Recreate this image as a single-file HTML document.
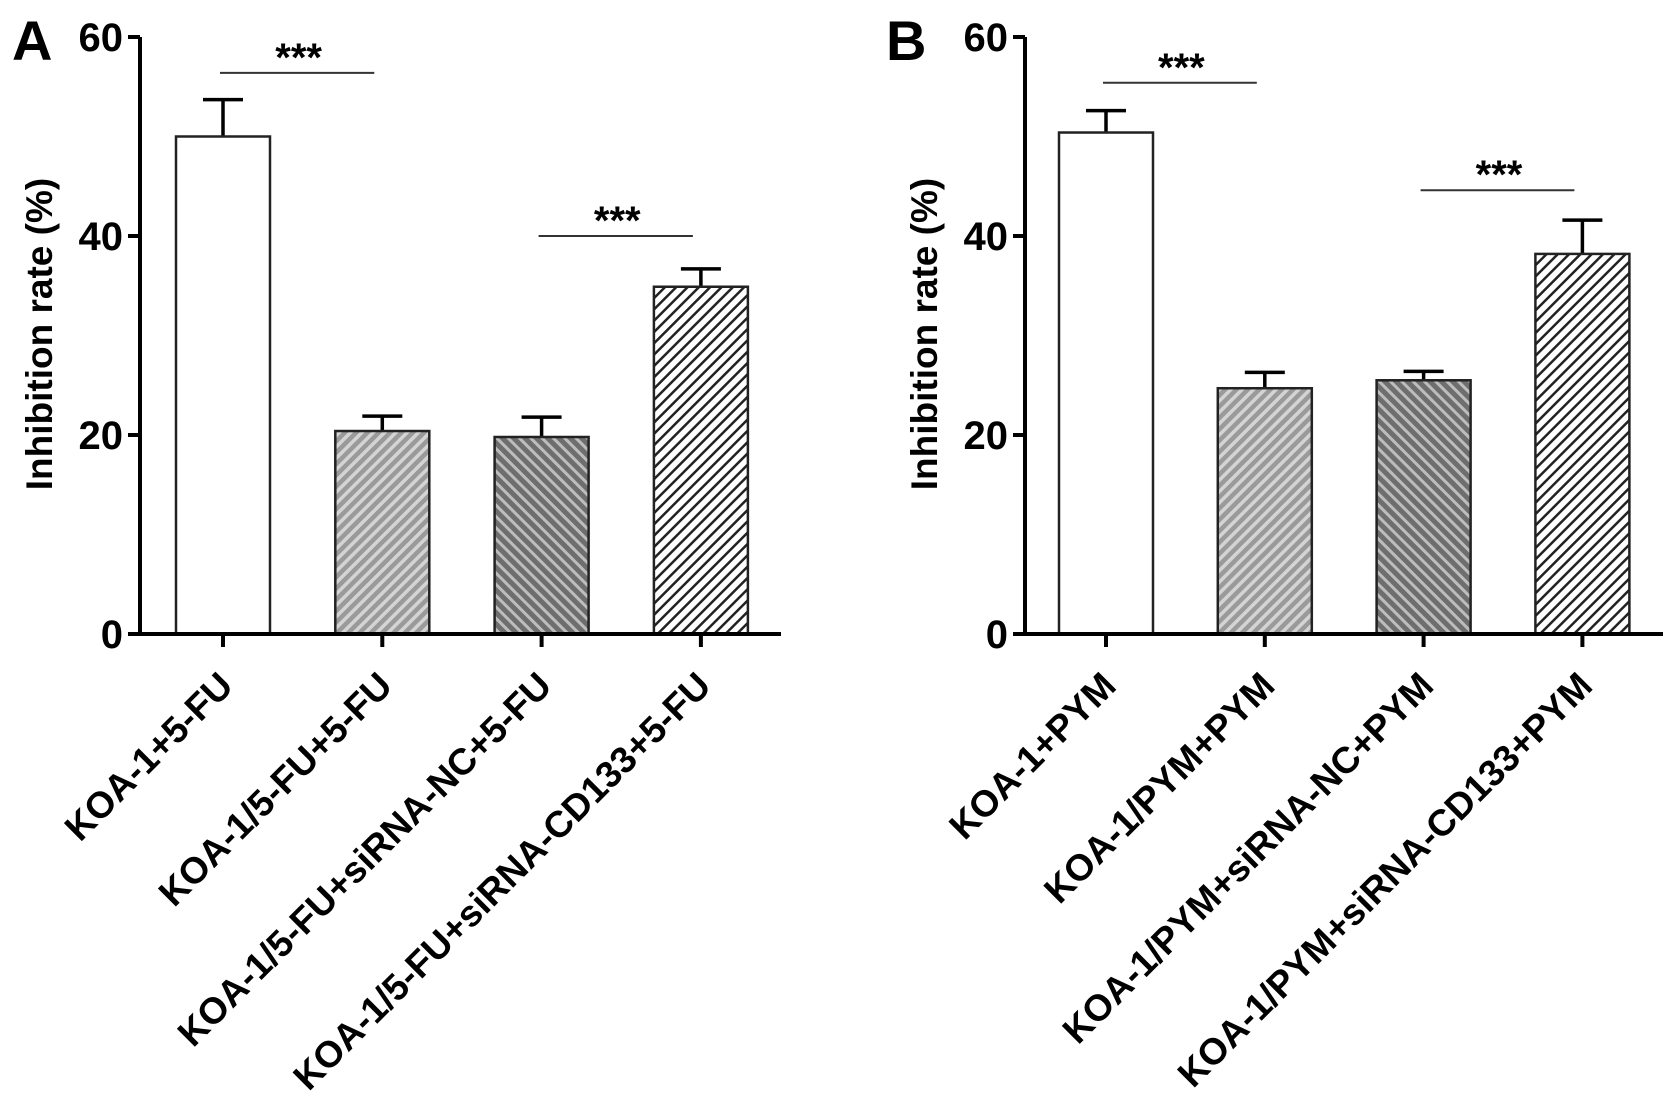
<!DOCTYPE html>
<html><head><meta charset="utf-8"><style>
html,body{margin:0;padding:0;background:#fff;}
svg{display:block;font-family:"Liberation Sans",Arial,sans-serif;}
</style></head><body>
<svg id="fig" width="1677" height="1100" viewBox="0 0 1677 1100">
<defs>
<pattern id="hatchA" patternUnits="userSpaceOnUse" width="8" height="8" patternTransform="rotate(45)">
<rect width="8" height="8" fill="#9a9a9a"/><rect width="3.5" height="8" fill="#d4d4d4"/></pattern>
<pattern id="hatchB" patternUnits="userSpaceOnUse" width="8" height="8" patternTransform="rotate(-45)">
<rect width="8" height="8" fill="#6e6e6e"/><rect width="3" height="8" fill="#bdbdbd"/></pattern>
<pattern id="hatchC" patternUnits="userSpaceOnUse" width="8" height="8" patternTransform="rotate(45)">
<rect width="8" height="8" fill="#fff"/><rect width="2.5" height="8" fill="#222"/></pattern>
</defs>
</svg>
<script>
const catsA = ["KOA-1+5-FU","KOA-1/5-FU+5-FU","KOA-1/5-FU+siRNA-NC+5-FU","KOA-1/5-FU+siRNA-CD133+5-FU"];
const valsA = [50.0, 20.4, 19.8, 34.9];
const errA = [3.7, 1.5, 2.0, 1.8];
const catsB = ["KOA-1+PYM","KOA-1/PYM+PYM","KOA-1/PYM+siRNA-NC+PYM","KOA-1/PYM+siRNA-CD133+PYM"];
const valsB = [50.4, 24.7, 25.5, 38.2];
const errB = [2.2, 1.6, 0.9, 3.4];
const yTicks = [0, 20, 40, 60];
const sigA = [[0,1,"***",56.4],[2,3,"***",40.0]];
const sigB = [[0,1,"***",55.4],[2,3,"***",44.6]];
const fills = ["#fff","url(#hatchA)","url(#hatchB)","url(#hatchC)"];

const svg = document.getElementById('fig');
const NS = "http://www.w3.org/2000/svg";
function mk(tag, attrs, parent){const e=document.createElementNS(NS,tag);for(const k in attrs)e.setAttribute(k,attrs[k]);(parent||svg).appendChild(e);return e;}

function panel(key, letter, letterX, axisX, x0, step, axisEnd, cats, vals, errs, sigs){
  const g = mk('g',{});
  
  
  const yTop=37, yBot=634, yMax=60;
  const y = v => yBot - (v/yMax)*(yBot-yTop);
  const x = i => x0 + i*step;
  const bw = 94;
  const L = mk('text',{x:letterX,y:60,'font-size':56,'font-weight':'bold',fill:'#000'},g); L.textContent=letter;
  
  
  vals.forEach((v,i)=>{
    const eb = mk('path',{d:`M${x(i)} ${y(v)} V${y(v+errs[i])} M${x(i)-20} ${y(v+errs[i])} H${x(i)+20}`,stroke:'#000','stroke-width':3.5,fill:'none'},g);
    
    
    const r = mk('rect',{x:x(i)-bw/2,y:y(v),width:bw,height:yBot-y(v),fill:fills[i],stroke:'#222','stroke-width':2.5},g);
    
    
  });
  const ya = mk('path',{d:`M${axisX} ${yTop} V${yBot}`,stroke:'#000','stroke-width':4},g);
  
  
  const xa = mk('path',{d:`M${axisX-8} ${yBot} H${axisEnd}`,stroke:'#000','stroke-width':4},g);
  
  
  yTicks.forEach(t=>{
    mk('path',{d:`M${axisX-12} ${y(t)} H${axisX}`,stroke:'#000','stroke-width':4},g);
    const tl = mk('text',{x:axisX-17,y:y(t)+14,'font-size':40,'font-weight':'bold','text-anchor':'end',fill:'#000'},g);
    tl.textContent=t;
    
    
  });
  const yt = mk('text',{x:0,y:0,'font-size':37,'font-weight':'bold','text-anchor':'middle',fill:'#000',transform:`translate(${axisX-88},334) rotate(-90)`},g);
  yt.textContent='Inhibition rate (%)';
  
  
  cats.forEach((c,i)=>{
    mk('path',{d:`M${x(i)} ${yBot} V${yBot+13}`,stroke:'#000','stroke-width':4},g);
    const t = mk('text',{x:0,y:0,'font-size':37,'font-weight':'bold','text-anchor':'end',fill:'#000',transform:`translate(${x(i)+12},${yBot+54}) rotate(-45)`},g);
    t.textContent=c;
    
    
  });
  sigs.forEach((s,j)=>{
    const ly = y(s[3]);
    const ln = mk('path',{d:`M${x(s[0])-3} ${ly} H${x(s[1])-8}`,stroke:'#333','stroke-width':2},g);
    
    
    const st = mk('text',{x:(x(s[0])+x(s[1]))/2-4,y:ly-2,'font-size':40,'font-weight':'bold','text-anchor':'middle',fill:'#000'},g);
    st.textContent=s[2];
    
    
  });
}
panel('a','A',12,140,223,159.3,781,catsA,valsA,errA,sigA);
panel('b','B',886,1025,1106,158.8,1663,catsB,valsB,errB,sigB);
</script>
</body></html>
